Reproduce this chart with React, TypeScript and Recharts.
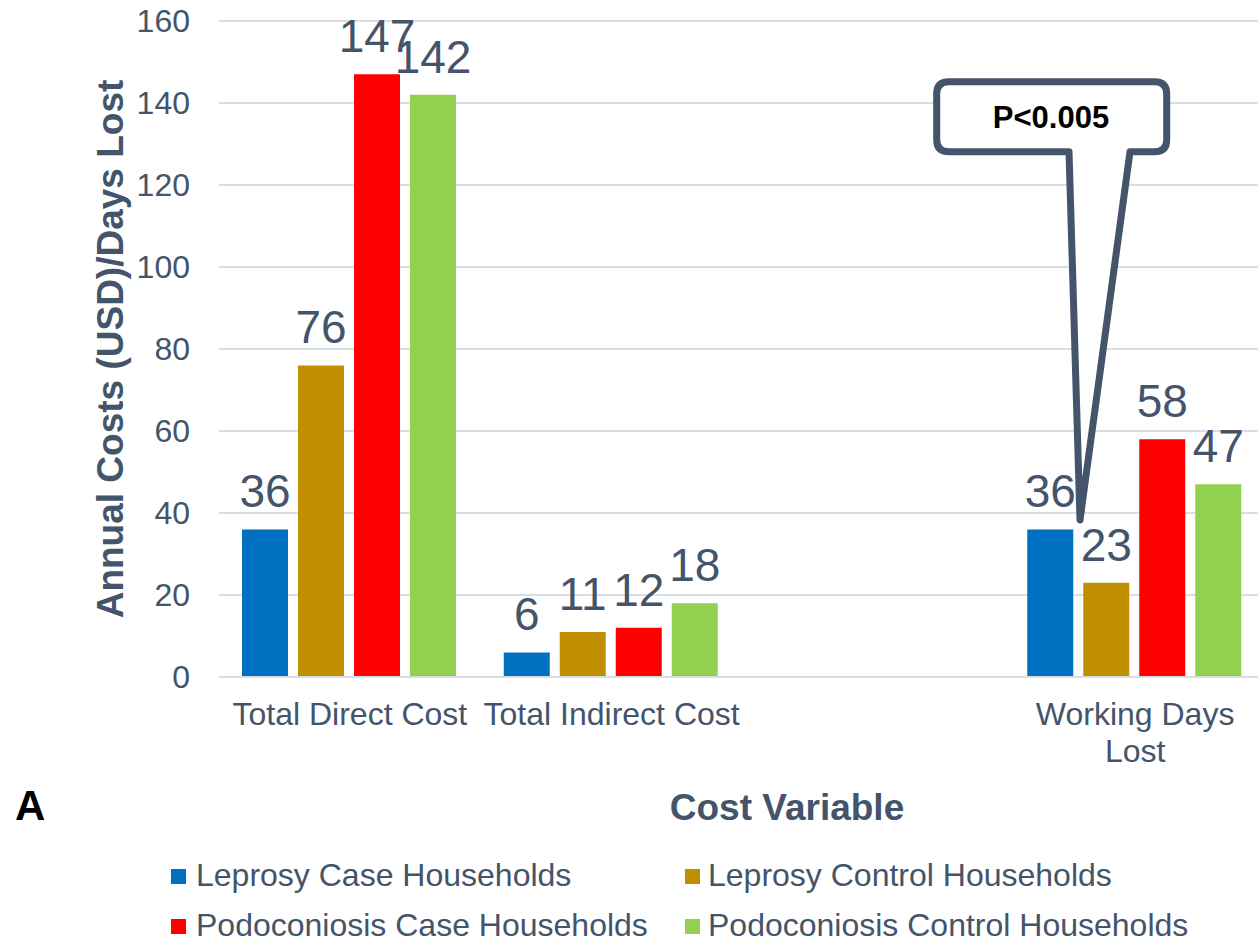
import React from 'react'
import {
  BarChart,
  Bar,
  XAxis,
  YAxis,
  CartesianGrid,
  LabelList,
} from 'recharts'

const categories = [
  'Total Direct Cost',
  'Total Indirect Cost',
  '',
  'Working Days\nLost',
]
const leprosyCase = [36, 6, null, 36]
const leprosyControl = [76, 11, null, 23]
const podoCase = [147, 12, null, 58]
const podoControl = [142, 18, null, 47]

const seriesNames = [
  'Leprosy Case Households',
  'Leprosy Control Households',
  'Podoconiosis Case Households',
  'Podoconiosis Control Households',
]
const seriesKeys = ['lepCase', 'lepControl', 'podoCase', 'podoControl']
const seriesColors = ['#0070c0', '#bf8f00', '#ff0000', '#92d050']
const yTicks = [0, 20, 40, 60, 80, 100, 120, 140, 160]

const data = categories.map((name, i) => ({
  name,
  lepCase: leprosyCase[i],
  lepControl: leprosyControl[i],
  podoCase: podoCase[i],
  podoControl: podoControl[i],
}))

const TEXT = '#44546a'
const GRID = '#d9dee5'
const FONT = '"Liberation Sans", Arial, sans-serif'

function XTick(props: any) {
  const { x, y, payload } = props
  const lines = String(payload.value).split('\n')
  return (
    <text x={x} y={y} textAnchor="middle" fontSize={32} fill={TEXT} fontFamily={FONT}>
      {lines.map((l, i) => (
        <tspan key={i} x={x} dy={i === 0 ? 48 : 37}>
          {l}
        </tspan>
      ))}
    </text>
  )
}

function BarLabel(props: any) {
  const { x, y, width, value } = props
  if (value == null) return null
  return (
    <text
      x={x + width / 2}
      y={y - 22}
      textAnchor="middle"
      fontSize={46}
      fill={TEXT}
      fontFamily={FONT}
    >
      {value}
    </text>
  )
}

export default function App() {
  return (
    <div
      style={{
        position: 'absolute',
        left: 0,
        top: 0,
        width: 1258,
        height: 942,
        overflow: 'hidden',
        background: '#fff',
        fontFamily: FONT,
      }}
    >
      <BarChart
        width={1290}
        height={942}
        data={data}
        margin={{ top: 21, right: 24, left: 0, bottom: 205 }}
        barCategoryGap={23}
        barGap={10}
      >
        <CartesianGrid vertical={false} stroke={GRID} strokeWidth={2} />
        <XAxis
          dataKey="name"
          interval={0}
          height={60}
          axisLine={{ stroke: GRID, strokeWidth: 2 }}
          tickLine={false}
          tickSize={0}
          tickMargin={0}
          tick={<XTick />}
        />
        <YAxis
          width={219}
          domain={[0, 160]}
          ticks={yTicks}
          axisLine={false}
          tickLine={false}
          tickSize={0}
          tickMargin={29}
          tick={{ fontSize: 32, fill: TEXT, fontFamily: FONT }}
        />
        {seriesKeys.map((k, i) => (
          <Bar key={k} dataKey={k} name={seriesNames[i]} fill={seriesColors[i]} isAnimationActive={false}>
            <LabelList dataKey={k} content={<BarLabel />} />
          </Bar>
        ))}
      </BarChart>

      <svg
        width={1258}
        height={942}
        style={{ position: 'absolute', left: 0, top: 0, pointerEvents: 'none' }}
        fontFamily={FONT}
      >
        {/* callout */}
        <path
          d="M 948.7 81.7 H 1154.7 Q 1166.7 81.7 1166.7 93.7 V 139.7 Q 1166.7 151.7 1154.7 151.7 H 1130 L 1080 520 L 1069 151.7 H 948.7 Q 936.7 151.7 936.7 139.7 V 93.7 Q 936.7 81.7 948.7 81.7 Z"
          fill="#fff"
          stroke={TEXT}
          strokeWidth={7}
          strokeLinejoin="round"
        />
        <text x={1051} y={128} textAnchor="middle" fontSize={31} fontWeight="bold" fill="#000">
          P&lt;0.005
        </text>

        {/* axis titles */}
        <text
          x={123}
          y={349}
          transform="rotate(-90, 123, 349)"
          textAnchor="middle"
          fontSize={37}
          fontWeight="bold"
          fill={TEXT}
        >
          Annual Costs (USD)/Days Lost
        </text>
        <text x={787} y={820} textAnchor="middle" fontSize={37} fontWeight="bold" fill={TEXT}>
          Cost Variable
        </text>
        <text x={15} y={820} fontSize={42} fontWeight="bold" fill="#000">
          A
        </text>

        {/* legend */}
        {seriesNames.map((n, i) => {
          const col = i % 2
          const row = Math.floor(i / 2)
          const sx = col === 0 ? 171 : 685
          const tx = col === 0 ? 196 : 708
          const base = row === 0 ? 886 : 936
          return (
            <g key={n}>
              <rect x={sx} y={base - 17} width={15} height={15} fill={seriesColors[i]} />
              <text x={tx} y={base} fontSize={32} fill={TEXT}>
                {n}
              </text>
            </g>
          )
        })}
      </svg>
    </div>
  )
}
